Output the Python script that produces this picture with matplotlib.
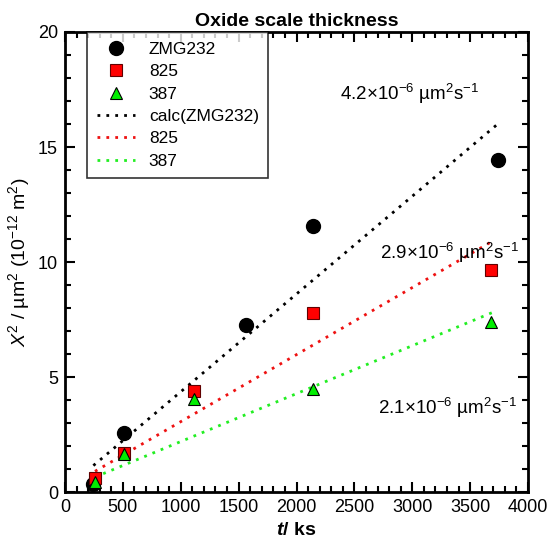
import matplotlib
matplotlib.use('Agg')
import matplotlib.pyplot as plt
from matplotlib.ticker import MultipleLocator

plt.rcParams['font.family'] = ['Liberation Sans', 'DejaVu Sans']
plt.rcParams['mathtext.fontset'] = 'custom'
plt.rcParams['mathtext.rm'] = 'Liberation Sans'
plt.rcParams['mathtext.it'] = 'Liberation Sans:italic'
plt.rcParams['mathtext.bf'] = 'Liberation Sans:bold'
plt.rcParams['mathtext.bfit'] = 'Liberation Sans:bold:italic'

# measured points (t in ks, X^2 in um^2)
t_zmg = [245, 510, 1563, 2142, 3740]
x2_zmg = [0.35, 2.56, 7.26, 11.57, 14.43]
t_825 = [259, 510, 1114, 2142, 3680]
x2_825 = [0.6, 1.7, 4.39, 7.8, 9.65]
t_387 = [259, 510, 1114, 2142, 3680]
x2_387 = [0.45, 1.65, 4.04, 4.48, 7.39]

# parabolic rate fit lines (end points)
fit_t_zmg = [245, 3750]
fit_y_zmg = [1.15, 16.05]
fit_t_825 = [259, 3690]
fit_y_825 = [0.9, 10.9]
fit_t_387 = [259, 3690]
fit_y_387 = [0.65, 7.8]

fig = plt.figure(figsize=(5.48, 5.47), dpi=100)
ax = fig.add_axes([0.1186, 0.1005, 0.845, 0.841])

ax.plot(t_zmg, x2_zmg, 'o', color='black', ms=10, ls='none', label='ZMG232', zorder=4)
ax.plot(t_825, x2_825, 's', color='red', mec='#600000', mew=0.8, ms=9, ls='none', label='825', zorder=4)
ax.plot(t_387, x2_387, '^', color='#00ee00', mec='black', mew=0.8, ms=9, ls='none', label='387', zorder=4)

ax.plot(fit_t_zmg, fit_y_zmg, ls=(0, (1, 2.2)), lw=2, color='black', label='calc(ZMG232)')
ax.plot(fit_t_825, fit_y_825, ls=(0, (1, 2.2)), lw=2, color='#ee1111', label='825')
ax.plot(fit_t_387, fit_y_387, ls=(0, (1, 2.2)), lw=2, color='#22ee22', label='387')

ax.text(2980, 17.3, '4.2×10$^{-6}$ µm$^2$s$^{-1}$', fontsize=13.5, ha='center', va='center')
ax.text(3325, 10.4, '2.9×10$^{-6}$ µm$^2$s$^{-1}$', fontsize=13.5, ha='center', va='center')
ax.text(3307, 3.65, '2.1×10$^{-6}$ µm$^2$s$^{-1}$', fontsize=13.5, ha='center', va='center')

ax.set_xlim(0, 4000)
ax.set_ylim(0, 20)
ax.xaxis.set_major_locator(MultipleLocator(500))
ax.xaxis.set_minor_locator(MultipleLocator(100))
ax.yaxis.set_major_locator(MultipleLocator(5))
ax.yaxis.set_minor_locator(MultipleLocator(1))
ax.tick_params(which='both', direction='in', top=True, right=True, labelsize=13, width=1.5)
ax.tick_params(which='major', length=7, pad=5)
ax.tick_params(which='minor', length=4)
for s in ax.spines.values():
    s.set_linewidth(2)

ax.set_title('Oxide scale thickness', fontsize=14, fontweight='bold', pad=4)
ax.set_xlabel('$\\mathbfit{t}$/ ks', fontsize=14, fontweight='bold')
ax.set_ylabel('$X^2$ / µm$^2$ (10$^{-12}$ m$^2$)', fontsize=14)

leg = ax.legend(loc='upper left', fontsize=12.5, frameon=True, fancybox=False,
                edgecolor='black', borderaxespad=0.0, bbox_to_anchor=(0.048, 1.0),
                handlelength=2.2, labelspacing=0.42, borderpad=0.55)
leg.get_frame().set_linewidth(1.2)

fig.savefig('out.png', dpi=100)
